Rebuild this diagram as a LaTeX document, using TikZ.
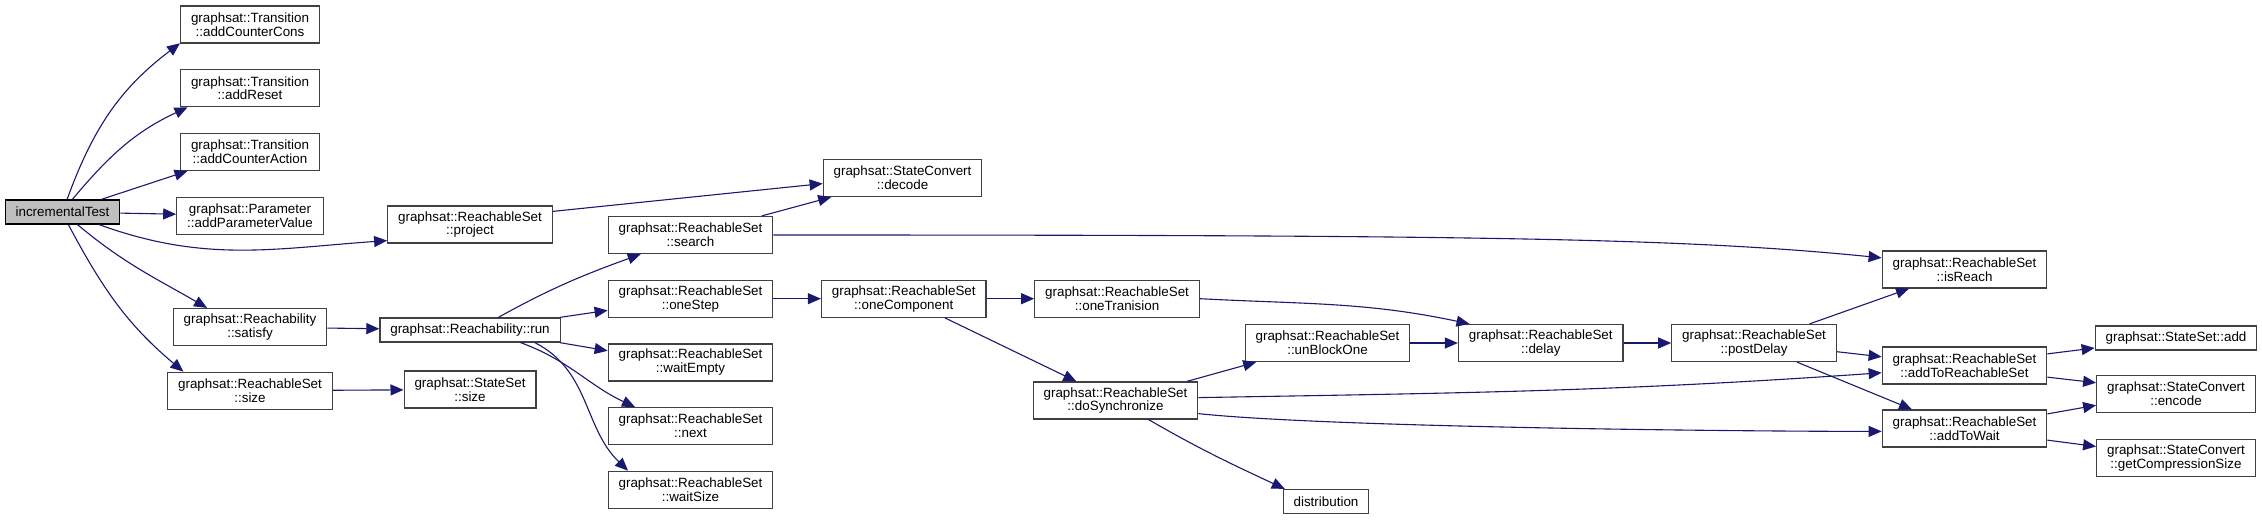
\documentclass[tikz,border=0pt]{standalone}
\usepackage{fontspec}
\setmainfont{Liberation Sans}
\usepackage{tikz}
\usepackage{xcolor}
\usetikzlibrary{arrows.meta,positioning}

\definecolor{callblue}{RGB}{25,25,112}
\definecolor{boxgray}{RGB}{64,64,64}
\definecolor{rootgray}{RGB}{191,191,191}

\begin{document}
\begin{tikzpicture}[
    x=0.5pt, y=-0.5pt,
    node distance=12.75pt and 23.75pt,
    fn/.style={draw=boxgray, line width=0.6pt, align=center, inner xsep=5.2pt, inner ysep=1pt, minimum height=18.5pt, font=\fontsize{6.7}{6.9}\selectfont},
    fnflat/.style={fn, minimum height=12pt},
    fnroot/.style={fnflat, draw=black, fill=rootgray},
    call/.style={-{Triangle[length=6.5pt, width=5.5pt]}, draw=callblue, line width=0.55pt}
]
\useasboundingbox (0,0) rectangle (2262,520);

\node[fnroot] (test) at (62.5,212) {incrementalTest};

\node[fn] (cons) at (250,24.5) {graphsat::Transition\\::addCounterCons};
\node[fn, below=of cons] (reset) {graphsat::Transition\\::addReset};
\node[fn, below=of reset] (action) {graphsat::Transition\\::addCounterAction};
\node[fn, below=of action] (param) {graphsat::Parameter\\::addParameterValue};
\node[fn] (satisfy) at (250,327) {graphsat::Reachability\\::satisfy};
\node[fn, below=of satisfy] (rsize) {graphsat::ReachableSet\\::size};

\node[fn] (project) at (470,224.5) {graphsat::ReachableSet\\::project};
\node[fnflat] (run) at (470,330) {graphsat::Reachability::run};
\node[fn] (ssize) at (470,389.5) {graphsat::StateSet\\::size};

\node[fn] (search) at (690.5,235) {graphsat::ReachableSet\\::search};
\node[fn, below=of search] (onestep) {graphsat::ReachableSet\\::oneStep};
\node[fn, below=of onestep] (waitempty) {graphsat::ReachableSet\\::waitEmpty};
\node[fn, below=of waitempty] (next) {graphsat::ReachableSet\\::next};
\node[fn, below=of next] (waitsize) {graphsat::ReachableSet\\::waitSize};

\node[fn] (decode) at (902.5,178) {graphsat::StateConvert\\::decode};
\node[fn, right=of onestep] (onecomp) {graphsat::ReachableSet\\::oneComponent};
\node[fn, right=of onecomp] (onetran) {graphsat::ReachableSet\\::oneTranision};
\node[fn] (dosync) at (1115.5,400.5) {graphsat::ReachableSet\\::doSynchronize};
\node[fn] (unblock) at (1327.5,343) {graphsat::ReachableSet\\::unBlockOne};
\node[fnflat] (distrib) at (1326,501.5) {distribution};
\node[fn, right=of unblock] (delay) {graphsat::ReachableSet\\::delay};
\node[fn, right=of delay] (postdelay) {graphsat::ReachableSet\\::postDelay};
\node[fn] (isreach) at (1964.5,269.5) {graphsat::ReachableSet\\::isReach};
\node[fn] (toreach) at (1964.5,365.5) {graphsat::ReachableSet\\::addToReachableSet};
\node[fn] (towait) at (1964.5,428.5) {graphsat::ReachableSet\\::addToWait};
\node[fnflat] (ssadd) at (2176,338) {graphsat::StateSet::add};
\node[fn] (encode) at (2176,394) {graphsat::StateConvert\\::encode};
\node[fn, below=of encode] (compsize) {graphsat::StateConvert\\::getCompressionSize};

\draw[call] (test.70) to[out=70, in=217] (cons.195);
\draw[call] (test.52) to[out=50, in=205] (reset.197);
\draw[call] (test.18) -- (action.197);
\draw[call] (test) -- (param);
\draw[call] (test.-19) to[out=-20, in=184] (project.191);
\draw[call] (test.-40) to[out=-40, in=150] (satisfy.156);
\draw[call] (test.-65) to[out=-62, in=140] (rsize.164);
\draw[call] (satisfy) -- (run);
\draw[call] (rsize) -- (ssize);
\draw[call] (project.9) -- (decode.184);
\draw[call] (run.24) to[out=29, in=200] (search.201);
\draw[call] (run.8) -- (onestep.188);
\draw[call] (run.-8) -- (waitempty.172);
\draw[call] (run.-14) to[out=-20, in=155] (next.161);
\draw[call] (run.-11) to[out=-27, in=136] (waitsize.163);
\draw[call] (search.15) -- (decode.195);
\draw[call] (search.east) .. controls +(700,0) and +(-200,-20) .. (isreach.172);
\draw[call] (onestep) -- (onecomp);
\draw[call] (onecomp) -- (onetran);
\draw[call] (onecomp.-25) -- (dosync.154);
\draw[call] (onetran.east) to[out=-3, in=168] (delay.165);
\draw[call] (dosync.15) -- (unblock.195);
\draw[call] (dosync.2) to[out=1, in=184] (toreach.185);
\draw[call] (dosync.-9) to[out=-6, in=180, looseness=0.5] (towait.182);
\draw[call] (dosync.-30) to[out=-30, in=155] (distrib.163);
\draw[call] (unblock) -- (delay);
\draw[call] (delay) -- (postdelay);
\draw[call] (postdelay.19) -- (isreach.199);
\draw[call] (postdelay.-6) -- (toreach.174);
\draw[call] (postdelay.-24) -- (towait.160);
\draw[call] (toreach.8) -- (ssadd.187);
\draw[call] (toreach.-8) -- (encode.172);
\draw[call] (towait.10) -- (encode.188);
\draw[call] (towait.-8) -- (compsize.172);
\end{tikzpicture}
\end{document}
